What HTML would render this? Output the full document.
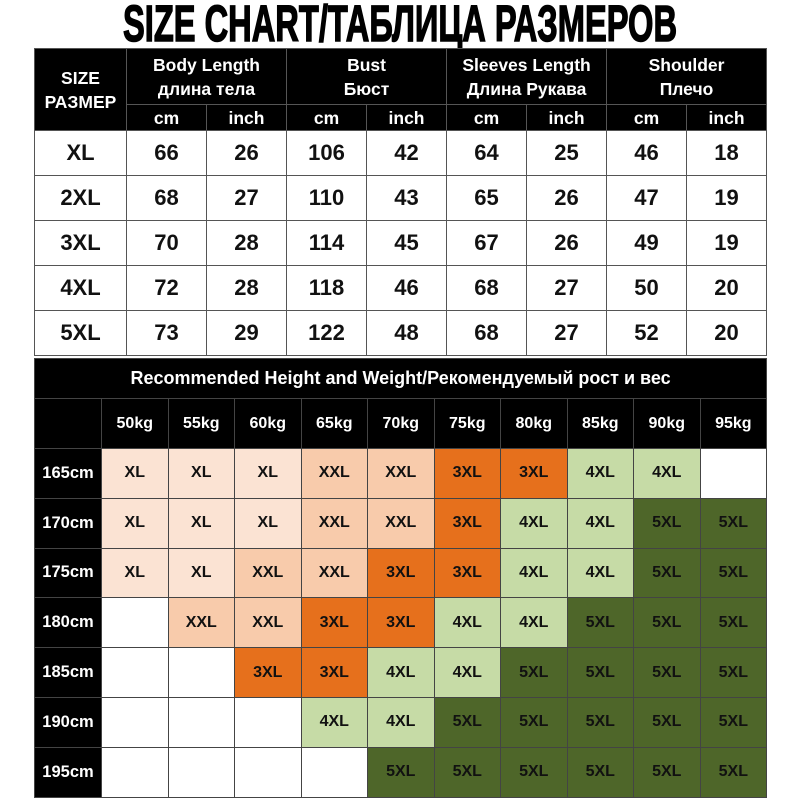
<!DOCTYPE html>
<html><head><meta charset="utf-8"><style>
body{margin:0;width:800px;height:800px;background:#fff;position:relative;overflow:hidden;font-family:"Liberation Sans","DejaVu Sans",sans-serif;font-weight:bold}
.title{position:absolute;left:-200px;width:1200px;top:0;text-align:center;font-family:"Liberation Sans",sans-serif;font-weight:bold;font-size:51px;line-height:48px;transform:scaleX(0.64);transform-origin:600px 0;-webkit-text-stroke:1.5px #000;white-space:nowrap}
table{position:absolute;border-collapse:collapse;table-layout:fixed}
td{border:1.5px solid #555;text-align:center;vertical-align:middle;padding:0;overflow:hidden;white-space:nowrap}
#t1{left:34px;top:48px;width:732px}
#t1 .h{background:#000;color:#fff;font-size:17.5px;line-height:24px}
#t1 .d td{height:44px;font-size:22px;color:#111}
#t2{left:34px;top:358px;width:732px}
#t2 td{border-color:#444}
.k{background:#000;color:#fff}
#t2 .r td{height:48.8px;font-size:16px;color:#111}
#t2 .r td.k{color:#fff;font-size:16.5px}
.a{background:#fbe3d3}.b{background:#f8cbab}.c{background:#e6701c}.g{background:#c6dba6}.e{background:#4e6629}.w{background:#fff}
</style></head><body>
<div class="title">SIZE CHART/ТАБЛИЦА РАЗМЕРОВ</div>
<table id="t1">
<colgroup><col style="width:92px"><col span="8" style="width:80px"></colgroup>
<tr class="h" style="height:56px"><td rowspan="2">SIZE<br>РАЗМЕР</td><td colspan="2">Body Length<br>длина тела</td><td colspan="2">Bust<br>Бюст</td><td colspan="2">Sleeves Length<br>Длина Рукава</td><td colspan="2">Shoulder<br>Плечо</td></tr>
<tr class="h" style="height:26px"><td>cm</td><td>inch</td><td>cm</td><td>inch</td><td>cm</td><td>inch</td><td>cm</td><td>inch</td></tr>
<tr class="d"><td>XL</td><td>66</td><td>26</td><td>106</td><td>42</td><td>64</td><td>25</td><td>46</td><td>18</td></tr>
<tr class="d"><td>2XL</td><td>68</td><td>27</td><td>110</td><td>43</td><td>65</td><td>26</td><td>47</td><td>19</td></tr>
<tr class="d"><td>3XL</td><td>70</td><td>28</td><td>114</td><td>45</td><td>67</td><td>26</td><td>49</td><td>19</td></tr>
<tr class="d"><td>4XL</td><td>72</td><td>28</td><td>118</td><td>46</td><td>68</td><td>27</td><td>50</td><td>20</td></tr>
<tr class="d"><td>5XL</td><td>73</td><td>29</td><td>122</td><td>48</td><td>68</td><td>27</td><td>52</td><td>20</td></tr>
</table>
<table id="t2">
<colgroup><col style="width:67px"><col span="10" style="width:66.5px"></colgroup>
<tr style="height:40px"><td colspan="11" class="k" style="font-size:18px">Recommended Height and Weight/Рекомендуемый рост и вес</td></tr>
<tr style="height:50px;font-size:16px"><td class="k"></td><td class="k">50kg</td><td class="k">55kg</td><td class="k">60kg</td><td class="k">65kg</td><td class="k">70kg</td><td class="k">75kg</td><td class="k">80kg</td><td class="k">85kg</td><td class="k">90kg</td><td class="k">95kg</td></tr>
<tr class="r"><td class="k">165cm</td><td class="a">XL</td><td class="a">XL</td><td class="a">XL</td><td class="b">XXL</td><td class="b">XXL</td><td class="c">3XL</td><td class="c">3XL</td><td class="g">4XL</td><td class="g">4XL</td><td class="w"></td></tr>
<tr class="r"><td class="k">170cm</td><td class="a">XL</td><td class="a">XL</td><td class="a">XL</td><td class="b">XXL</td><td class="b">XXL</td><td class="c">3XL</td><td class="g">4XL</td><td class="g">4XL</td><td class="e">5XL</td><td class="e">5XL</td></tr>
<tr class="r"><td class="k">175cm</td><td class="a">XL</td><td class="a">XL</td><td class="b">XXL</td><td class="b">XXL</td><td class="c">3XL</td><td class="c">3XL</td><td class="g">4XL</td><td class="g">4XL</td><td class="e">5XL</td><td class="e">5XL</td></tr>
<tr class="r"><td class="k">180cm</td><td class="w"></td><td class="b">XXL</td><td class="b">XXL</td><td class="c">3XL</td><td class="c">3XL</td><td class="g">4XL</td><td class="g">4XL</td><td class="e">5XL</td><td class="e">5XL</td><td class="e">5XL</td></tr>
<tr class="r"><td class="k">185cm</td><td class="w"></td><td class="w"></td><td class="c">3XL</td><td class="c">3XL</td><td class="g">4XL</td><td class="g">4XL</td><td class="e">5XL</td><td class="e">5XL</td><td class="e">5XL</td><td class="e">5XL</td></tr>
<tr class="r"><td class="k">190cm</td><td class="w"></td><td class="w"></td><td class="w"></td><td class="g">4XL</td><td class="g">4XL</td><td class="e">5XL</td><td class="e">5XL</td><td class="e">5XL</td><td class="e">5XL</td><td class="e">5XL</td></tr>
<tr class="r"><td class="k">195cm</td><td class="w"></td><td class="w"></td><td class="w"></td><td class="w"></td><td class="e">5XL</td><td class="e">5XL</td><td class="e">5XL</td><td class="e">5XL</td><td class="e">5XL</td><td class="e">5XL</td></tr>
</table>
</body></html>
